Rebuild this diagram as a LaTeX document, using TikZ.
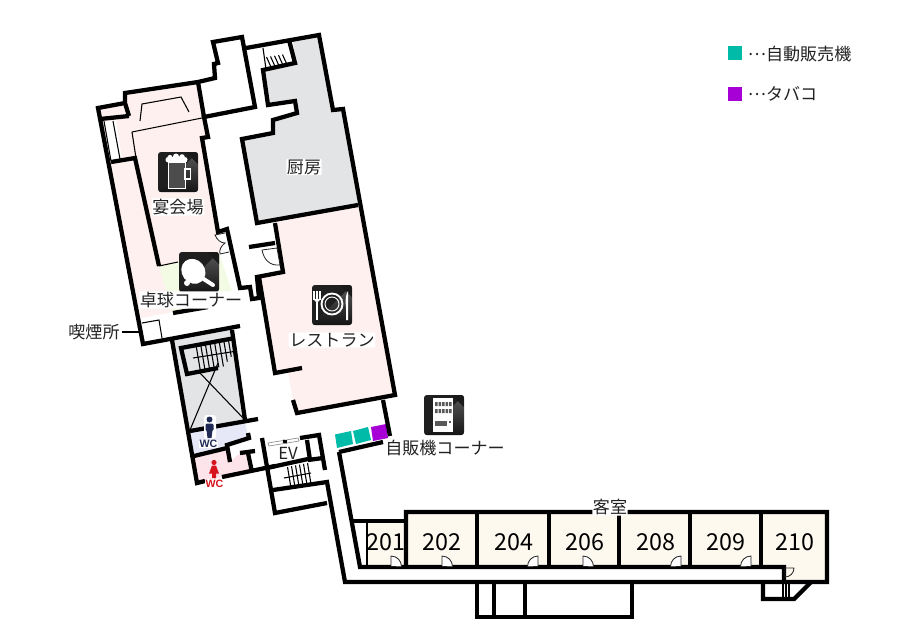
\documentclass[tikz,border=0pt]{standalone}
\usepackage{fontspec}
\setmainfont{Noto Sans CJK JP}
\newfontfamily\wcfont{Liberation Sans}
\definecolor{ink}{HTML}{222222}
\definecolor{cream}{HTML}{FDF9EF}
\definecolor{pinkroom}{HTML}{FEF0EE}
\definecolor{grayroom}{HTML}{E3E4E5}
\definecolor{greenroom}{HTML}{F4FBE4}
\definecolor{lavroom}{HTML}{E6E8F8}
\definecolor{wcpink}{HTML}{FDE4EA}
\definecolor{teal}{HTML}{00BBA7}
\definecolor{purp}{HTML}{A600D6}
\definecolor{navy}{HTML}{1F2A55}
\definecolor{wcred}{HTML}{D7141E}
\tikzset{
 wall/.style={draw=black,line width=3.2pt,miter limit=4},
 thinwall/.style={draw=black,line width=0.8pt},
 doorline/.style={draw=ink,line width=0.6pt,fill=white},
 tread/.style={draw=black,line width=0.8pt},
 lab/.style={text=ink,font=\fontsize{12.8pt}{14pt}\selectfont,inner sep=0.5pt,fill=white,rounded corners=1pt},
 num/.style={text=black,font=\fontsize{17.5pt}{20pt}\selectfont,inner sep=0pt},
 wclab/.style={font=\wcfont\bfseries\fontsize{8pt}{9pt}\selectfont,inner sep=0.5pt},
}
\newcommand{\iconbg}{%
 \begin{scope}
 \clip[rounded corners=2.2pt] (-20,-20) rectangle (20,20);
 \fill[black!88] (-20,-20) rectangle (20,20);
 \shade[bottom color=black!92,top color=black!65] (20,-20) -- (20,20) -- (-20,20) -- cycle;
 \fill[black!90] (20,-20) -- (20,-8) -- (8,-20) -- cycle;
 \end{scope}}
\newcommand{\centerdots}{\raisebox{0.32em}{…}}
\begin{document}
\begin{tikzpicture}[x=0.75pt,y=-0.75pt]
\useasboundingbox (0,0) rectangle (900,640);
\fill[white] (0,0) rectangle (900,640);
% room fills
\fill[pinkroom] (98,108)--(125,103)--(125,93)--(198,82)--(204,117)--(208,137)--(202,138)--(218,232)--(229,252)--(219,253)--(159,266)--(173,312)--(141,318)--cycle;
\fill[white] (104,122)--(116,120)--(122,159)--(111,161)--cycle;
\fill[greenroom] (159,266)--(219,253)--(233,295)--(172,312)--cycle;
\fill[grayroom] (293,40)--(319,35)--(333,110)--(343,109)--(358,205)--(257,223)--(242,139)--(273,133)--(273,120)--(297,113)--(295,101)--(268,105)--(263,70)--(295,63)--cycle;
\fill[pinkroom] (275,223)--(358,205)--(395,395)--(297,413)--(293,400)--(288,372)--(302,368)--(275,373)--(259,277)--(283,272)--cycle;
\fill[grayroom] (172,340)--(232,328)--(247,422)--(190,432)--cycle;
\fill[lavroom] (190,432)--(245,422)--(248,436)--(227,446)--(228,449)--(194,456)--cycle;
\fill[wcpink] (194,456)--(228,449)--(230,462)--(240,453)--(248,453)--(252,472)--(222,477)--(197,483)--cycle;
\fill[cream] (367,521)--(406,521)--(406,512)--(826,512)--(826,582)--(784,582)--(784,567)--(367,567)--cycle;
% vending squares
\fill[teal] (335,434.5)--(351,431)--(353,444)--(337,448)--cycle;
\fill[teal] (353,431)--(368,427)--(371,440)--(356,444)--cycle;
\fill[purp] (371,427)--(386,424)--(388,438)--(373,441)--cycle;
% thin lines
\draw[thinwall] (140,121)--(142,104)--(181,97)--(189,112);
\draw[thinwall] (132,132)--(202,118);
\draw[thinwall] (132,132)--(136,158);
\draw[thinwall] (104,121)--(111,161);
\draw[thinwall] (113,121)--(120,159);
\draw[thinwall] (159,266)--(178,262);
\draw[thinwall] (142,323)--(159,320)--(162,338);
\draw[thinwall] (122,332)--(143,332);
\draw[thinwall] (263,48)--(266,69);
\foreach \i in {0,...,4}{\draw[tread] ({266.5+4*\i},{57-0.6*\i})--({271+4*\i},{67-0.6*\i});}
\draw[thinwall] (200,373)--(245,420);
\draw[thinwall] (218,363)--(190,430);
% walls
\draw[wall] (129,116)--(125,103)--(125,93)--(198,82)--(215,78)--(214,64)--(218,63)--(213,42)--(242,37)--(255,107)--(204,117)--(208,137)--(202,138)--(218,232)--(227,229)--(240,288)--(250,287)--(252,299)--(259,298)--(257,277)--(283,272)--(275,223);
\draw[wall] (198,82)--(204,117);
\draw[wall] (240,326)--(143,344)--(98,108)--(125,103);
\draw[wall] (100,119)--(129,116);
\draw[wall] (111,162)--(135,158)--(159,266);
\draw[wall] (173,313)--(208,307);
\draw[wall] (220,306)--(227,305);
\draw[wall] (246,48)--(319,35)--(333,110)--(343,109)--(395,395)--(297,413)--(293,400);
\draw[wall] (383,400)--(390,436);
\draw[wall] (289,40)--(295,63)--(263,70)--(268,105)--(295,101)--(297,113)--(273,120)--(273,133)--(242,139)--(257,223)--(358,205);
\draw[wall] (259,277)--(275,373)--(302,368);
\draw[wall] (249,247)--(275,243);
% stair core
\draw[wall] (172,340)--(197,483)--(205,481);
\draw[wall] (232,330)--(245,420);
\draw[wall] (235,338)--(181,348)--(187,374)--(218,368);
\draw[wall] (190,431)--(258,419);
\draw[wall] (194,456)--(227,448);
\draw[wall] (248,433)--(249,438)--(227,445)--(230,462);
\draw[wall] (240,453)--(255,451);
\draw[wall] (248,453)--(252,472);
\draw[wall] (222,477)--(275,466);
\foreach \i in {0,...,8}{
 \pgfmathsetmacro{\len}{\i<6 ? 26 : 26-(\i-5)*4}
 \draw[tread] ({196+4.6*\i},{345-0.9*\i})--({196+4.6*\i+\len*0.17},{345-0.9*\i+\len});}
\draw[tread] (193,358)--(237,351);
% EV
\draw[wall] (262,438)--(275,513)--(327,503);
\draw[wall] (273,490)--(327,482)--(345,582)--(827,582)--(827,512)--(406,512)--(406,567);
\draw[wall] (300,438)--(319,435)--(325,470);
\draw[wall] (307,440)--(310,460);
\draw[wall] (308,460)--(323,458);
\draw[wall] (267,468)--(308,459);
\draw[draw=black!45,line width=0.5pt,fill=white] (268,443)--(298,438)--(299,441)--(269,446)--cycle;
\fill[black,rotate around={-10:(285,441.5)}] (283,440) rectangle (287,443);
\foreach \i in {0,...,5}{\draw[tread] ({287.5+4*\i},{467-0.8*\i})--({291+4*\i},{488-0.8*\i});}
\draw[tread] (284,478)--(311,473);
% corridor
\draw[wall] (339,452)--(383,442);
\draw[wall] (339,452)--(360,567)--(784,567)--(784,580);
\draw[wall] (353,521)--(406,521);
\draw[wall,line width=2.2pt] (367,521)--(367,567);
\foreach \x in {477,549,619,690,761}{\draw[wall] (\x,512)--(\x,567);}
\draw[wall] (477,582)--(477,617)--(632,617)--(632,582);
\draw[wall] (494,582)--(494,617);
\draw[wall] (525,582)--(525,617);
\draw[wall] (763,582)--(763,599)--(794,599)--(811,582);
\foreach \x in {783,786,789}{\draw[thinwall] (\x,582)--(\x,599);}
% doors
\draw[doorline] (225,233)--(215,235) .. controls (217,240) and (221,243) .. (225,243) .. controls (221,246) and (219,250) .. (220,254)--(229,252);
\draw[doorline] (262,250)--(277,248)--(280,265) .. controls (270,266) and (264,260) .. (262,250)--cycle;
\draw[doorline] (391,566)--(391,556) arc[start angle=-90,end angle=0,radius=10.5];
\draw[doorline] (442,566)--(442,556) arc[start angle=-90,end angle=0,radius=10.5];
\draw[doorline] (538,566)--(538,556) arc[start angle=-90,end angle=-180,radius=10.5];
\draw[doorline] (583,566)--(583,556) arc[start angle=-90,end angle=0,radius=10.5];
\draw[doorline] (681,566)--(681,556) arc[start angle=-90,end angle=-180,radius=10.5];
\draw[doorline] (751,566)--(751,556) arc[start angle=-90,end angle=-180,radius=10.5];
\draw[doorline,fill=none] (785,578)--(785,568)--(794,568) arc[start angle=0,end angle=90,radius=9];
% icons
\begin{scope}[shift={(178,172)}]
 \iconbg
 \draw[white,line width=0.75pt,fill=black!70] (-10,-10) rectangle (7,16);
 \draw[white,line width=0.9pt] (7,-3) rectangle (12.5,7);
 \fill[white,rounded corners=2pt] (-12.5,-15) rectangle (9.5,-9.5);
 \fill[white] (-8,-14.5) circle (2.6) (-2,-15.5) circle (3) (4,-15) circle (2.8);
\end{scope}
\begin{scope}[shift={(199,272)}]
 \iconbg
 \draw[white,line width=3pt,line cap=round] (0,4)--(14,13);
 \fill[white,rotate=38] (-4,-4) ellipse (11.5 and 13);
 \fill[white] (-12,11) circle (3);
\end{scope}
\begin{scope}[shift={(332,305)}]
 \iconbg
 \draw[white,line width=1.6pt] (-15,-3)--(-15,15);
 \draw[white,line width=0.8pt] (-18,-14)--(-18,-5) (-15,-14)--(-15,-5) (-12,-14)--(-12,-5);
 \fill[white] (-18,-6) .. controls (-18,-2) and (-12,-2) .. (-12,-6) --cycle;
 \draw[white,line width=1.4pt] (0,-1) circle (10.5);
 \draw[white,line width=0.7pt] (0,-1) circle (7);
 \fill[white] (14,15)--(16,15)--(16,-14) .. controls (14,-11) and (13,-6) .. (14,2) --cycle;
\end{scope}
\begin{scope}[shift={(444,415)}]
 \iconbg
 \fill[white] (-11,-17) rectangle (9,17);
 \foreach \a in {-9,-5.5,-2,1.5,5}{\fill[black!65] (\a,-13) rectangle (\a+2.6,-9) (\a,-6) rectangle (\a+2.6,-2);}
 \fill[black!65] (-9,6) rectangle (3,11);
 \fill[black!65] (5,6) rectangle (7,8);
\end{scope}
% people
\fill[white,rounded corners=2pt] (204,415) rectangle (216,439);
\fill[navy] (209.5,419.5) circle (3);
\fill[navy,rounded corners=1pt] (205.5,423.5) rectangle (213.5,431);
\fill[navy] (206.5,430)--(212.5,430)--(211.5,438)--(207.5,438)--cycle;
\fill[wcred] (214,462.5) circle (2.6);
\fill[wcred] (212,465.5)--(216,465.5)--(219,473.5)--(216,473.5)--(216,478)--(212,478)--(212,473.5)--(209,473.5)--cycle;
\node[wclab,text=navy,fill=white] (wcm) at (208.5,444) {WC};
\node[wclab,text=wcred,fill=white] (wcf) at (214.5,483.5) {WC};
% labels
\node[lab] (kitchen) at (304,167) {厨房};
\node[lab] (banquet) at (178,207) {宴会場};
\node[lab] (pingpong) at (191,300) {卓球コーナー};
\node[lab] (smoke) at (94,332) {喫煙所};
\node[lab] (rest) at (332,340) {レストラン};
\node[lab] (vend) at (445,448) {自販機コーナー};
\node[lab,fill=none,font=\fontsize{12.5pt}{14pt}\selectfont] (ev) at (288,453) {EV};
\node[lab] (guest) at (610,507) {客室};
\node[num] (r201) at (386,542) {201};
\node[num] (r202) at (442,542) {202};
\node[num] (r204) at (514,542) {204};
\node[num] (r206) at (585,542) {206};
\node[num] (r208) at (656,542) {208};
\node[num] (r209) at (726,542) {209};
\node[num] (r210) at (795,542) {210};
% legend
\fill[teal] (728,46) rectangle (742,60);
\fill[purp] (728,87) rectangle (742,101);
\node[lab,anchor=west,fill=none] (lega) at (747,54) {\centerdots 自動販売機};
\node[lab,anchor=west,fill=none] (legb) at (747,94) {\centerdots タバコ};
\end{tikzpicture}
\end{document}
